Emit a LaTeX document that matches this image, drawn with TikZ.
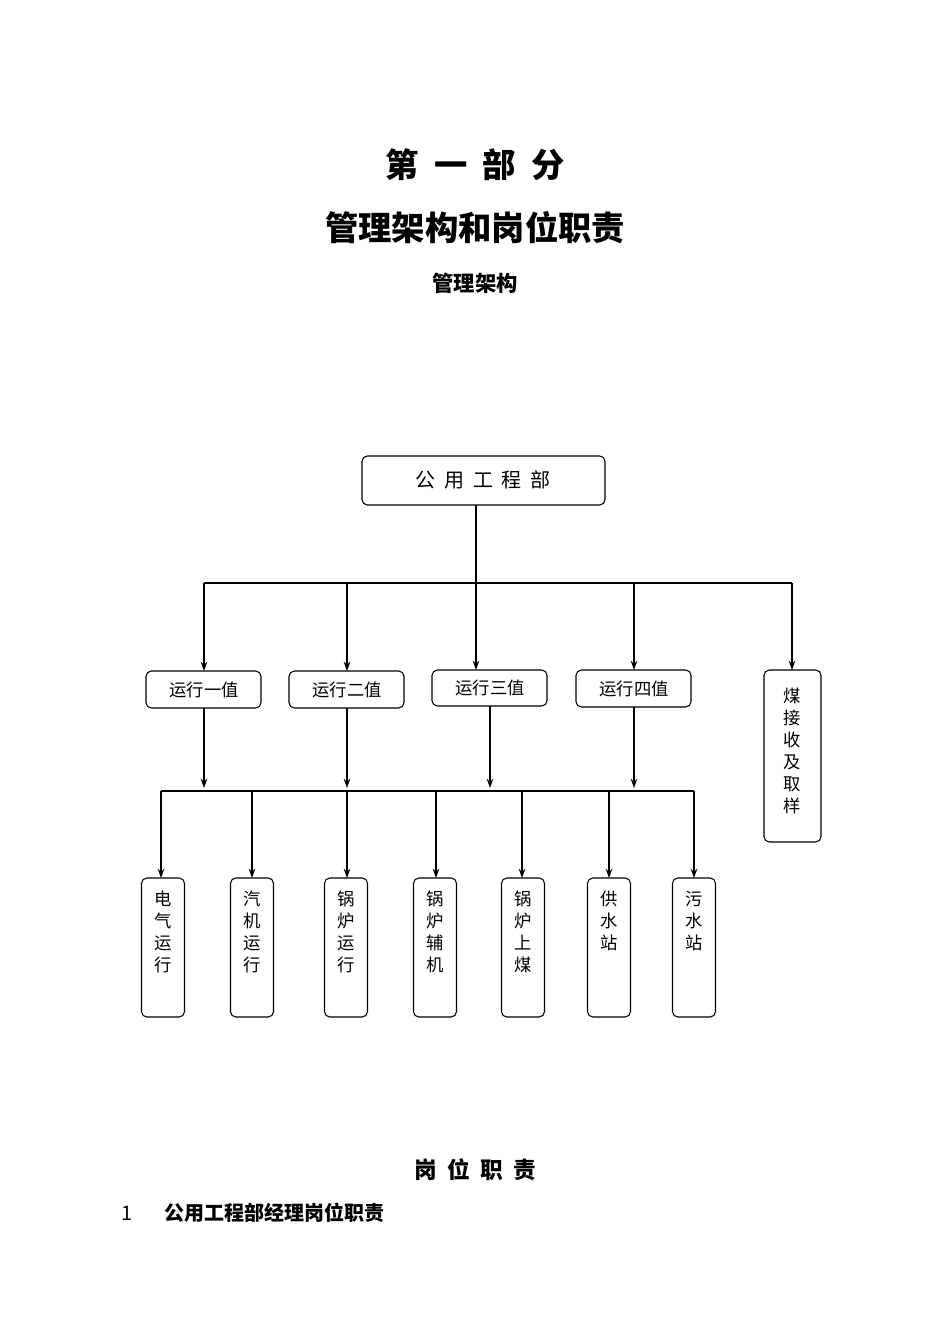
\documentclass[tikz,border=0pt]{standalone}
\usepackage{fontspec}
\setmainfont{Noto Sans CJK SC}
\newfontfamily\cjkb[BoldFont={Noto Sans CJK SC Bold}]{Noto Sans CJK SC}
\usetikzlibrary{arrows.meta}
\begin{document}
\begin{tikzpicture}[x=0.75pt,y=-0.75pt,
 box/.style={draw,rounded corners=4pt,line width=0.8pt,inner sep=0pt},
 lbl/.style={font=\fontsize{13}{14}\selectfont},
 vlbl/.style={font=\fontsize{13}{16.5}\selectfont,align=center,anchor=north},
 arr/.style={-{Stealth[length=7pt,width=5pt]},line width=0.8pt},
 ln/.style={line width=0.8pt}]
\useasboundingbox[fill=white] (0,0) rectangle (950,1344);
\node[font=\bfseries\fontsize{25}{28}\selectfont] (t1) at (475,165) {第\ \ 一\ \ 部\ \ 分};
\node[font=\bfseries\fontsize{25}{28}\selectfont] (t2) at (475,228) {管理架构和岗位职责};
\node[font=\bfseries\fontsize{16}{18}\selectfont] (t3) at (475,283) {管理架构};
% top
\draw[box] (362,456) rectangle (605,505);
\node[font=\fontsize{15}{16}\selectfont] (top) at (483,480) {公\ \ 用\ \ 工\ \ 程\ \ 部};
\coordinate (tb) at (476,505);
\coordinate (hl) at (204,583); \coordinate (hr) at (792,583);
\draw[ln] (tb) -- (476,583);
\draw[ln] (hl) -- (hr);
% second row
\foreach \n/\x/\t/\b/\c in {a/204/671/708/运行一值, b/347/671/708/运行二值, c/490/670/706/运行三值, d/634/670/707/运行四值}{
 \draw[box] (\x-58,\t) rectangle (\x+57,\b);
 \node[lbl] (\n) at (\x,{(\t+\b)/2}) {\c};
 \coordinate (\n b) at (\x,\b);
 \coordinate (\n d) at (\x,788);
 \draw[arr] (\n b) -- (\n d);
}
\draw[box] (764,670) rectangle (821,842);
\node[vlbl] (e) at (792,683) {煤\\接\\收\\及\\取\\样};
\foreach \x/\t in {204/671,347/671,476/670,634/670,792/670}{
 \coordinate (s) at (\x,583); \coordinate (f) at (\x,\t);
 \draw[arr] (s) -- (f);
}
% bottom
\coordinate (bl) at (161,791); \coordinate (br) at (694,791);
\draw[ln] (bl) -- (br);
\foreach \n/\x/\w/\c in {p/163/161/电\\气\\运\\行, q/252/252/汽\\机\\运\\行, r/346/347/锅\\炉\\运\\行, s/435/436/锅\\炉\\辅\\机, u/523/522/锅\\炉\\上\\煤, v/609/609/供\\水\\站, w/694/694/污\\水\\站}{
 \draw[box] (\x-21.5,878) rectangle (\x+21.5,1017);
 \node[vlbl] (\n) at (\x,886) {\c};
 \coordinate (\n s) at (\w,791); \coordinate (\n f) at (\w,878);
 \draw[arr] (\n s) -- (\n f);
}
\node[font=\bfseries\fontsize{17}{18}\selectfont] (g) at (475,1170) {岗\ \ 位\ \ 职\ \ 责};
\node[font=\fontsize{15}{16}\selectfont,anchor=west] (n1) at (117,1213) {1};
\node[font=\bfseries\fontsize{15}{16}\selectfont,anchor=west] (h1) at (160,1213) {公用工程部经理岗位职责};
\end{tikzpicture}
\end{document}
